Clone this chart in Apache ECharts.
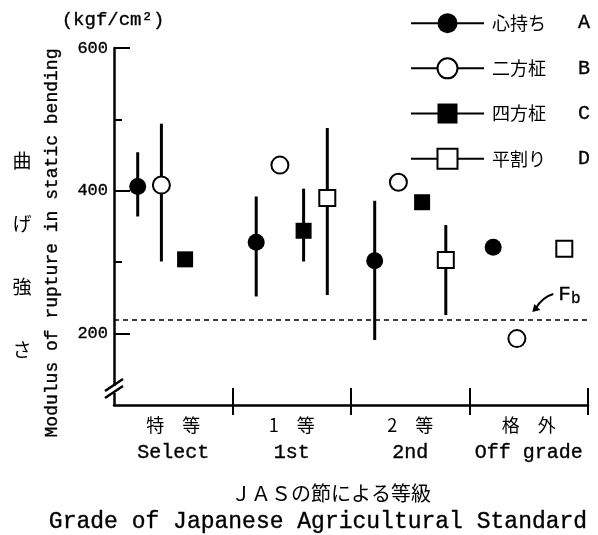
<!DOCTYPE html>
<html>
<head>
<meta charset="UTF-8">
<title>曲げ強さとJAS等級</title>
<script src="https://cdn.jsdelivr.net/npm/echarts@6.0.0/dist/echarts.min.js"></script>
<style>html,body{margin:0;padding:0;background:#fff;}</style>
</head>
<body>
<div id="main" style="width:598px;height:535px;"></div>
<script>
// 等級
var gradeJp = ['特　等', '1　等', '2　等', '格　外'];
var gradeEn = ['Select', '1st', '2nd', 'Off grade'];
// 木取り
var typeNames = ['心持ち', '二方柾', '四方柾', '平割り'];
var typeLetters = ['A', 'B', 'C', 'D'];
var typeSymbols = ['circle', 'emptyCircle', 'rect', 'emptyRect'];
var typeOffsets = [0.2, 0.4, 0.6, 0.8];
// 平均値 (kgf/cm2)  null = なし
var meanA = [406, 328, 302, 321];
var meanB = [408, 436, 412, 193];
var meanC = [304, 344, 384, null];
var meanD = [null, 390, 303, 319];
// 範囲
var lowA = [364, 252, 191, null];
var highA = [454, 392, 386, null];
var lowB = [301, null, null, null];
var highB = [494, null, null, null];
var lowC = [null, 301, null, null];
var highC = [null, 403, null, null];
var lowD = [null, 254, 226, null];
var highD = [null, 488, 352, null];
var fb = 219;
var yMajor = [200, 400, 600];
var yMinor = [300, 500];
var xBounds = [1, 2, 3, 4];
var xCenters = [0.5, 1.5, 2.5, 3.5];

var MONO = "'Liberation Mono', monospace";
var JP = "'Noto Sans CJK JP', sans-serif";
var BW = 0.35; // 文字を少し太く

var chart = echarts.init(document.getElementById('main'));

var means = [meanA, meanB, meanC, meanD];
var lows = [lowA, lowB, lowC, lowD];
var highs = [highA, highB, highC, highD];
var series = [];
var barData = [];
for (var s = 0; s < 4; s++) {
    var pts = [];
    for (var g = 0; g < 4; g++) {
        var x = g + typeOffsets[s];
        if (means[s][g] != null) pts.push([x, means[s][g]]);
        if (lows[s][g] != null) barData.push([x, lows[s][g], highs[s][g]]);
    }
    var empty = typeSymbols[s].indexOf('empty') === 0;
    series.push({
        name: typeNames[s],
        type: 'line',
        data: pts,
        symbol: typeSymbols[s],
        symbolSize: s < 2 ? 17 : 16,
        lineStyle: { opacity: 0 },
        itemStyle: empty ? { color: '#000', borderColor: '#000', borderWidth: 2.5 } : { color: '#000', borderWidth: 0 },
        z: 5,
        silent: true
    });
}
// 範囲の縦線 + Fb
series.unshift({
    type: 'custom',
    data: barData,
    z: 1,
    silent: true,
    encode: { x: 0, y: [1, 2] },
    renderItem: function (params, api) {
        var p1 = api.coord([api.value(0), api.value(1)]);
        var p2 = api.coord([api.value(0), api.value(2)]);
        return {
            type: 'line',
            shape: { x1: p1[0], y1: p1[1], x2: p2[0], y2: p2[1] },
            style: { stroke: '#000', lineWidth: 3 }
        };
    },
    markLine: {
        silent: true,
        symbol: ['none', 'none'],
        label: { show: false },
        lineStyle: { color: '#000', type: [5, 4], width: 1.5 },
        data: [{ yAxis: fb }]
    }
});

var option = {
    backgroundColor: '#fff',
    animation: false,
    grid: { left: 114, right: 10, top: 48, bottom: 130 },
    legend: {
        orient: 'vertical',
        left: 405,
        top: 8,
        itemWidth: 73,
        itemHeight: 25,
        itemGap: 24,
        selectedMode: false,
        data: typeNames,
        lineStyle: { color: '#000', width: 2, opacity: 1 },
        formatter: function (name) {
            return '{n|' + name + '}{l|' + typeLetters[typeNames.indexOf(name)] + '}';
        },
        textStyle: {
            color: '#000',
            rich: {
                n: { fontFamily: JP, fontSize: 18, color: '#000', width: 86, padding: [0, 0, 0, 3] },
                l: { fontFamily: MONO, fontSize: 20, color: '#000', textBorderColor: '#000', textBorderWidth: BW }
            }
        }
    },
    xAxis: [{
        type: 'value', min: 0, max: 4, interval: 1,
        splitLine: { show: false },
        axisLine: { onZero: false, lineStyle: { color: '#000', width: 2.5 } },
        axisTick: { customValues: xBounds, length: 10, lineStyle: { color: '#000', width: 2 } },
        axisLabel: {
            customValues: xCenters,
            margin: 6,
            formatter: function (v) {
                var i = Math.floor(v);
                return '{j|' + gradeJp[i] + '}\n{e|' + gradeEn[i] + '}';
            },
            rich: {
                j: { fontFamily: JP, fontSize: 18, color: '#000', lineHeight: 28 },
                e: { fontFamily: MONO, fontSize: 20, color: '#000', lineHeight: 28, textBorderColor: '#000', textBorderWidth: BW }
            }
        }
    }, {
        type: 'value', min: 0, max: 4, interval: 1, position: 'bottom',
        splitLine: { show: false },
        axisLine: { show: false, onZero: false },
        axisTick: { inside: true, customValues: xBounds, length: 17, lineStyle: { color: '#000', width: 2 } },
        axisLabel: { show: false }
    }],
    yAxis: [{
        type: 'value', min: 100, max: 600, interval: 100,
        splitLine: { show: false },
        axisLine: { onZero: false, lineStyle: { color: '#000', width: 2.5 } },
        axisTick: { inside: true, customValues: yMajor, length: 16, lineStyle: { color: '#000', width: 2 } },
        axisLabel: { customValues: yMajor, margin: 6, fontFamily: MONO, fontSize: 17, color: '#000', textBorderColor: '#000', textBorderWidth: BW }
    }, {
        type: 'value', min: 100, max: 600, interval: 100, position: 'left',
        splitLine: { show: false },
        axisLine: { show: false, onZero: false },
        axisTick: { inside: true, customValues: yMinor, length: 8, lineStyle: { color: '#000', width: 2 } },
        axisLabel: { show: false }
    }],
    graphic: [
        // 軸の省略記号
        { type: 'rect', z: 100, shape: { x: 110, y: 386, width: 8, height: 7 }, style: { fill: '#fff' } },
        { type: 'line', z: 101, shape: { x1: 105, y1: 391, x2: 123, y2: 379 }, style: { stroke: '#000', lineWidth: 2.5 } },
        { type: 'line', z: 101, shape: { x1: 105, y1: 398, x2: 123, y2: 386 }, style: { stroke: '#000', lineWidth: 2.5 } },
        // 単位・軸タイトル
        { type: 'text', x: 113, y: 20, style: { text: '(kgf/cm²)', fontFamily: MONO, fontSize: 19, fill: '#000', stroke: '#000', lineWidth: BW, align: 'center', verticalAlign: 'middle' } },
        { type: 'text', x: 52, y: 243, rotation: Math.PI / 2, style: { text: 'Modulus of rupture in static bending', fontFamily: MONO, fontSize: 18, fill: '#000', stroke: '#000', lineWidth: BW, align: 'center', verticalAlign: 'middle' } },
        { type: 'text', x: 22, y: 255, style: { text: '曲\nげ\n強\nさ', fontFamily: JP, fontSize: 19, lineHeight: 63, fill: '#000', align: 'center', verticalAlign: 'middle' } },
        { type: 'text', x: 331, y: 493, style: { text: 'ＪＡＳの節による等級', fontFamily: JP, fontSize: 20, fill: '#000', align: 'center', verticalAlign: 'middle' } },
        { type: 'text', x: 318, y: 522, style: { text: 'Grade of Japanese Agricultural Standard', fontFamily: MONO, fontSize: 23, fill: '#000', stroke: '#000', lineWidth: BW, align: 'center', verticalAlign: 'middle' } }
    ],
    series: series
};
chart.setOption(option);

// Fb の注記（基準線の位置から）
var p = chart.convertToPixel({ xAxisIndex: 0, yAxisIndex: 0 }, [3.53, fb]);
var tx = p[0], ty = p[1] - 8;
chart.setOption({
    graphic: [
        { id: 'fbArrow', type: 'bezierCurve', z: 100, shape: { x1: tx + 21, y1: ty - 18, x2: tx + 3, y2: ty - 3, cpx1: tx + 10, cpy1: ty - 15 }, style: { stroke: '#000', lineWidth: 2, fill: null } },
        { id: 'fbHead', type: 'polygon', z: 100, shape: { points: [[tx, ty], [tx + 8, ty - 2], [tx + 2, ty - 8]] }, style: { fill: '#000' } },
        { id: 'fbText', type: 'text', z: 100, x: tx + 26, y: ty - 18, style: { text: '{f|F}{b|b}', fill: '#000', verticalAlign: 'middle', rich: { f: { fontFamily: MONO, fontSize: 21, fill: '#000', stroke: '#000', lineWidth: BW }, b: { fontFamily: MONO, fontSize: 16, fill: '#000', stroke: '#000', lineWidth: BW, padding: [9, 0, 0, 0] } } } }
    ]
});
</script>
</body>
</html>
